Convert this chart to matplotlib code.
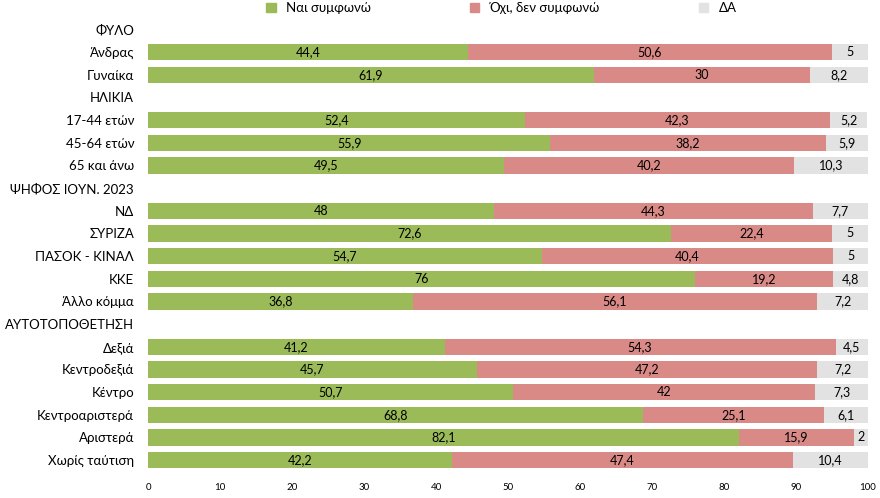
import matplotlib
matplotlib.use("Agg")
import matplotlib.pyplot as plt
import numpy as np

plt.rcParams["font.family"] = "Lato"

categories = ["ΦΥΛΟ", "Άνδρας", "Γυναίκα", "ΗΛΙΚΙΑ", "17-44 ετών", "45-64 ετών", "65 και άνω",
              "ΨΗΦΟΣ ΙΟΥΝ. 2023", "ΝΔ", "ΣΥΡΙΖΑ", "ΠΑΣΟΚ - ΚΙΝΑΛ", "ΚΚΕ", "Άλλο κόμμα",
              "ΑΥΤΟΤΟΠΟΘΕΤΗΣΗ", "Δεξιά", "Κεντροδεξιά", "Κέντρο", "Κεντροαριστερά", "Αριστερά", "Χωρίς ταύτιση"]
yes = [None, 44.4, 61.9, None, 52.4, 55.9, 49.5, None, 48, 72.6, 54.7, 76, 36.8,
       None, 41.2, 45.7, 50.7, 68.8, 82.1, 42.2]
no = [None, 50.6, 30, None, 42.3, 38.2, 40.2, None, 44.3, 22.4, 40.4, 19.2, 56.1,
      None, 54.3, 47.2, 42, 25.1, 15.9, 47.4]
dk = [None, 5, 8.2, None, 5.2, 5.9, 10.3, None, 7.7, 5, 5, 4.8, 7.2,
      None, 4.5, 7.2, 7.3, 6.1, 2, 10.4]
series_names = ["Ναι συμφωνώ", "Όχι, δεν συμφωνώ", "ΔΑ"]
colors = ["#9BBB59", "#D98A86", "#E2E2E2"]

def fmt(v):
    return ("%g" % v).replace(".", ",")

fig = plt.figure(figsize=(8.8, 4.98), dpi=100)
ax = fig.add_axes([148/880, 26.5/498, 720/880, 453.5/498])
n = len(categories)
y = np.arange(n)
for i in range(n):
    if yes[i] is None:
        continue
    left = 0
    for v, c in zip([yes[i], no[i], dk[i]], colors):
        ax.barh(y[i], v, left=left, color=c, height=0.72)
        ax.text(left + v/2, y[i], fmt(v), ha="center", va="center", fontsize=9)
        left += v
ax.set_ylim(n - 0.5, -0.5)
ax.set_xlim(0, 100)
ax.set_yticks(y)
ax.set_yticklabels(categories, fontsize=9.5)
ax.set_xticks(range(0, 101, 10))
ax.tick_params(axis="x", labelsize=7, length=0, pad=8)
ax.tick_params(axis="y", length=0, pad=10)
for s in ax.spines.values():
    s.set_visible(False)
handles = [plt.Rectangle((0, 0), 1, 1, color=c) for c in colors]
fig.legend(handles, series_names, loc="upper center", bbox_to_anchor=(0.57, 1.02), ncol=3,
           frameon=False, fontsize=9.5, handlelength=0.7, handleheight=0.7, columnspacing=7.5)
fig.savefig("out.png", dpi=100)
